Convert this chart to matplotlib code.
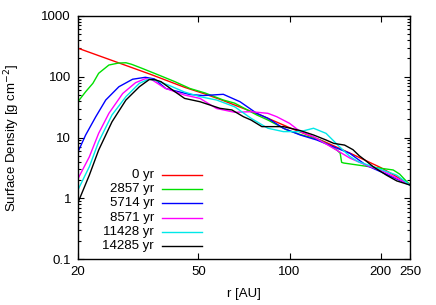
import numpy as np
import matplotlib
matplotlib.use("Agg")
from matplotlib import pyplot as plt
from matplotlib.lines import Line2D
from matplotlib.ticker import LogLocator, NullFormatter, FixedLocator, FixedFormatter

plt.rcParams['font.family'] = ['Liberation Sans', 'DejaVu Sans']
plt.rcParams['font.size'] = 9.5

# surface density profiles, r in AU, sigma in g cm^-2
red_r = [20, 27.2, 35, 45, 52.6, 60, 80, 100, 130, 160, 200, 250]
red_s = [295, 170, 108, 67, 52, 41, 23.5, 14.5, 8.6, 5.4, 3.2, 1.7]

green_r = [20, 21.2, 22.4, 23.4, 25.3, 27.2, 28.8, 30.1, 32.5, 36.9, 41.8, 46.9, 52.6, 60.4, 65.9,
           77.9, 84.8, 97.3, 108.5, 126, 132, 143.5, 147, 148.6, 151, 184, 220, 231, 250]
green_s = [39, 56.7, 78, 114, 156, 168, 170, 160, 138, 107, 83, 64, 54, 41.4, 36.7,
           23.5, 19.4, 13.5, 11.2, 9.1, 8.0, 6.2, 5.5, 3.9, 3.8, 3.3, 2.92, 2.5, 1.65]

blue_r = [20, 21.2, 22.9, 24.7, 27.3, 30.3, 33.4, 35.8, 39, 46.9, 51.9, 60.4, 68.6, 77.9, 84.8,
          95.4, 108.5, 123, 140, 158, 179, 216, 250]
blue_s = [5.8, 11, 22, 41.4, 68.5, 91, 98, 92, 64, 51, 49, 51.4, 38.8, 25, 20.7,
          14.2, 11, 9.1, 7.0, 5.5, 3.5, 2.3, 1.65]

magenta_r = [20, 21.8, 23.4, 25.3, 28.1, 31, 33.4, 35, 38.8, 45, 50.6, 57.4, 65.9, 74.6,
             84.8, 90.7, 100, 108.5, 120, 140, 158, 179, 205, 250]
magenta_s = [2.1, 4.8, 11.7, 25, 53, 80, 93, 90, 64.6, 50, 44, 30, 26, 26.6,
             25, 22, 17.1, 12.5, 10.3, 6.6, 4.6, 3.5, 2.75, 1.65]

cyan_r = [20, 21.8, 23.4, 25.9, 28.8, 31.9, 34.4, 36, 40, 45, 50.6, 57.4, 65.9, 74.6, 84.8,
          95.4, 108.5, 120, 132, 146, 158, 168.5, 189, 226, 250]
cyan_s = [1.38, 3.3, 8.5, 23.5, 47, 78, 92, 88, 72, 56, 47, 41.4, 32, 20.7, 14.2,
          12.5, 12.5, 14.2, 11.7, 7.1, 4.9, 4.0, 3.3, 2.4, 1.65]

black_r = [20, 21.8, 23.4, 25.9, 28.8, 31.9, 34.4, 36, 37.6, 41.8, 45, 50.6, 58.9, 64.5,
           70.4, 74.6, 81, 95.4, 108.5, 120, 132, 140, 152, 162, 170, 178, 189, 209, 226, 250]
black_s = [0.85, 2.4, 6.2, 18.1, 41.4, 68.5, 90, 89, 83, 56.7, 44, 38.8, 30.2, 28.4,
           22, 19.4, 15.1, 15.1, 13.0, 11.0, 9.1, 8.0, 7.5, 6.3, 5.0, 4.2, 3.3, 2.4, 1.93, 1.65]

labels = ["0 yr", "2857 yr", "5714 yr", "8571 yr", "11428 yr", "14285 yr"]
colors = ["#ff0000", "#00e000", "#0000ff", "#ff00ff", "#00e8e8", "#000000"]
series = [(red_r, red_s), (green_r, green_s), (blue_r, blue_s),
          (magenta_r, magenta_s), (cyan_r, cyan_s), (black_r, black_s)]

W, H = 436, 305
fig = plt.figure(figsize=(W / 100, H / 100), dpi=100)
ax = fig.add_axes([78 / W, 1 - 259 / H, 332 / W, 243 / H])

for (r, s), c in zip(series, colors):
    ax.plot(r, s, color=c, lw=1.0)

ax.set_xscale('log')
ax.set_yscale('log')
ax.set_xlim(20, 250)
ax.set_ylim(0.1, 1000)

xt = [20, 50, 100, 200, 250]
ax.xaxis.set_major_locator(FixedLocator(xt))
ax.xaxis.set_major_formatter(FixedFormatter([str(v) for v in xt]))
ax.xaxis.set_minor_locator(FixedLocator([]))
ax.yaxis.set_major_locator(FixedLocator([0.1, 1, 10, 100, 1000]))
ax.yaxis.set_major_formatter(FixedFormatter(["0.1", "1", "10", "100", "1000"]))
ax.yaxis.set_minor_locator(LogLocator(base=10, subs=np.arange(2, 10)))
ax.yaxis.set_minor_formatter(NullFormatter())

ax.tick_params(which='both', direction='in', top=True, right=True, width=0.8)
ax.tick_params(which='major', length=4.3, pad=5)
ax.tick_params(which='minor', length=2.2)
for sp in ax.spines.values():
    sp.set_linewidth(1.0)

ax.set_xlabel("r [AU]")
ax.xaxis.set_label_coords(0.5, -0.12)
ax.set_ylabel("Surface Density [g cm$^{-2}$]")
ax.yaxis.set_label_coords(-0.168, 0.5)

# gnuplot style key: right aligned text, sample line to the right
for i, (lab, c) in enumerate(zip(labels, colors)):
    yy = 1 - (175 + 14.2 * i) / H
    fig.text(154 / W, yy, lab, ha='right', va='center')
    fig.add_artist(Line2D([162 / W, 202 / W], [yy, yy], color=c, lw=1.0,
                          transform=fig.transFigure))

fig.savefig("out.png", dpi=100)
